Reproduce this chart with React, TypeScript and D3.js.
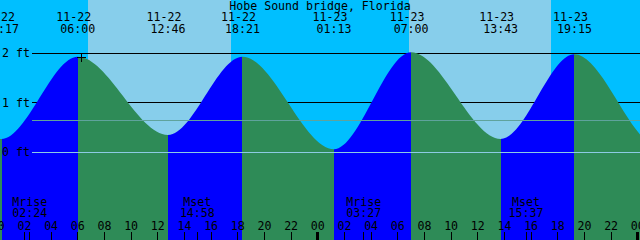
import React from 'react';
import * as d3 from 'd3';

const W = 640;
const H = 240;

const title = 'Hobe Sound bridge, Florida';

// Tide extremes (UTC used as local clock)
const tideTimes = [
  '2024-11-21T17:45', '2024-11-22T00:17', '2024-11-22T06:00', '2024-11-22T12:46',
  '2024-11-22T18:21', '2024-11-23T01:13', '2024-11-23T07:00', '2024-11-23T13:43',
  '2024-11-23T19:15', '2024-11-24T01:40', '2024-11-24T08:00',
];
const tideHeights = [1.9, 0.27, 1.93, 0.35, 1.93, 0.06, 2.02, 0.27, 1.98, 0.1, 2.0];
const labeledFrom = 1;
const labeledTo = 8;

const sunriseTimes = ['2024-11-22T06:45', '2024-11-23T06:51'];
const sunsetTimes = ['2024-11-22T17:29', '2024-11-23T17:30'];

const moonLabels = ['Mrise', 'Mset', 'Mrise', 'Mset'];
const moonTimes = ['2024-11-22T02:24', '2024-11-22T14:58', '2024-11-23T03:27', '2024-11-23T15:37'];

const markTime = '2024-11-22T06:15';

const yTickValues = [0, 1, 2];
const darkLevels = [1, 2];
const lightLevels = [0.65, 0];

const startTime = '2024-11-22T00:10';
const spanHours = 48;

const C = {
  night: '#00BFFF',
  day: '#87CEEB',
  rise: '#0000FF',
  fall: '#2E8B57',
  level065: '#5FA39C',
  level0: '#8CCBE4',
};

const FONT = '"DejaVu Sans Mono", monospace';
const FS = 11.6;

const p = (s: string) => new Date(s + ':00Z');

export default function App() {
  const t0 = p(startTime);
  const t1 = new Date(t0.getTime() + spanHours * 3600e3);
  const x = d3.scaleUtc().domain([t0, t1]).range([0, W]);
  const y = d3.scaleLinear().domain([0, 2]).range([152.3, 53.3]);

  const pts = tideTimes.map((t, i) => ({ t: p(t), h: tideHeights[i] }));
  const area = d3
    .area<{ t: Date; h: number }>()
    .x((d) => x(d.t))
    .y0(H)
    .y1((d) => y(d.h))
    .curve(d3.curveMonotoneX);
  const line = d3
    .line<{ t: Date; h: number }>()
    .x((d) => x(d.t))
    .y((d) => y(d.h))
    .curve(d3.curveMonotoneX);

  const hourTicks = d3.utcHour.every(2)!.range(d3.utcHour.floor(t0), new Date(t1.getTime() + 1));
  const fmtH = d3.utcFormat('%H');
  const fmtD = d3.utcFormat('%m-%d');
  const fmtT = d3.utcFormat('%H:%M');

  const markX = x(p(markTime));
  let markY = y(1.93);
  if (typeof document !== 'undefined') {
    const svgNS = 'http://www.w3.org/2000/svg';
    const pe = document.createElementNS(svgNS, 'path');
    pe.setAttribute('d', line(pts) || '');
    const tmp = document.createElementNS(svgNS, 'svg');
    tmp.appendChild(pe);
    document.body.appendChild(tmp);
    try {
      const L = pe.getTotalLength();
      let lo = 0, hi = L;
      for (let k = 0; k < 40; k++) {
        const mid = (lo + hi) / 2;
        if (pe.getPointAtLength(mid).x < markX) lo = mid; else hi = mid;
      }
      markY = pe.getPointAtLength(lo).y;
    } catch (e) {}
    document.body.removeChild(tmp);
  }

  const labeled = pts.slice(labeledFrom, labeledTo + 1);

  return (
    <svg
      width={W}
      height={H}
      style={{ position: 'absolute', left: 0, top: 0, display: 'block' }}
      fontFamily={FONT}
      fontSize={FS}
    >
      <defs>
        <clipPath id="tideClip">
          <path d={area(pts) || ''} />
        </clipPath>
      </defs>
      <rect x={0} y={0} width={W} height={H} fill={C.night} />
      {sunriseTimes.map((s, i) => (
        <rect
          key={'d' + i}
          x={x(p(s))}
          y={0}
          width={x(p(sunsetTimes[i])) - x(p(s))}
          height={H}
          fill={C.day}
          shapeRendering="crispEdges"
        />
      ))}
      {darkLevels.map((v) => (
        <line key={'k' + v} x1={32} x2={W} y1={y(v)} y2={y(v)} stroke="#000" strokeWidth={1} shapeRendering="crispEdges" />
      ))}
      <g clipPath="url(#tideClip)">
        {pts.slice(0, -1).map((d, i) => {
          const n = pts[i + 1];
          return (
            <rect
              key={'s' + i}
              x={x(d.t)}
              y={0}
              width={x(n.t) - x(d.t)}
              height={H}
              fill={n.h > d.h ? C.rise : C.fall}
              shapeRendering="crispEdges"
            />
          );
        })}
      </g>
      {lightLevels.map((v, i) => (
        <line
          key={'l' + v}
          x1={32}
          x2={W}
          y1={y(v)}
          y2={y(v)}
          stroke={i === 0 ? C.level065 : C.level0}
          strokeWidth={1}
          shapeRendering="crispEdges"
        />
      ))}
      <g stroke="#000" strokeWidth={1} shapeRendering="crispEdges">
        <line x1={markX - 4.5} x2={markX + 4.5} y1={markY} y2={markY} />
        <line x1={markX} x2={markX} y1={markY - 4.5} y2={markY + 4.5} />
      </g>
      {yTickValues.map((v) => (
        <text key={'y' + v} x={2} y={y(v) + 4}>
          {v} ft
        </text>
      ))}
      <text x={W / 2} y={9.5} textAnchor="middle">
        {title}
      </text>
      {labeled.map((d, i) => (
        <g key={'e' + i}>
          <text x={x(d.t) - 4} y={21} textAnchor="middle">
            {fmtD(d.t)}
          </text>
          <text x={x(d.t)} y={33} textAnchor="middle">
            {fmtT(d.t)}
          </text>
        </g>
      ))}
      {moonTimes.map((m, i) => (
        <g key={'m' + i}>
          <text x={x(p(m))} y={206} textAnchor="middle">
            {moonLabels[i]}
          </text>
          <text x={x(p(m))} y={217} textAnchor="middle">
            {fmtT(p(m))}
          </text>
          <line x1={x(p(m))} x2={x(p(m))} y1={232} y2={H} stroke="#000" shapeRendering="crispEdges" />
        </g>
      ))}
      {hourTicks.map((t, i) => {
        const xx = x(t);
        const midnight = t.getUTCHours() === 0;
        return (
          <g key={'h' + i}>
            <text x={xx} y={230} textAnchor="middle">
              {fmtH(t)}
            </text>
            {midnight ? (
              <rect x={xx - 1.5} y={232} width={3} height={H - 232} fill="#000" shapeRendering="crispEdges" />
            ) : (
              <line x1={xx} x2={xx} y1={232} y2={H} stroke="#000" shapeRendering="crispEdges" />
            )}
          </g>
        );
      })}
    </svg>
  );
}
